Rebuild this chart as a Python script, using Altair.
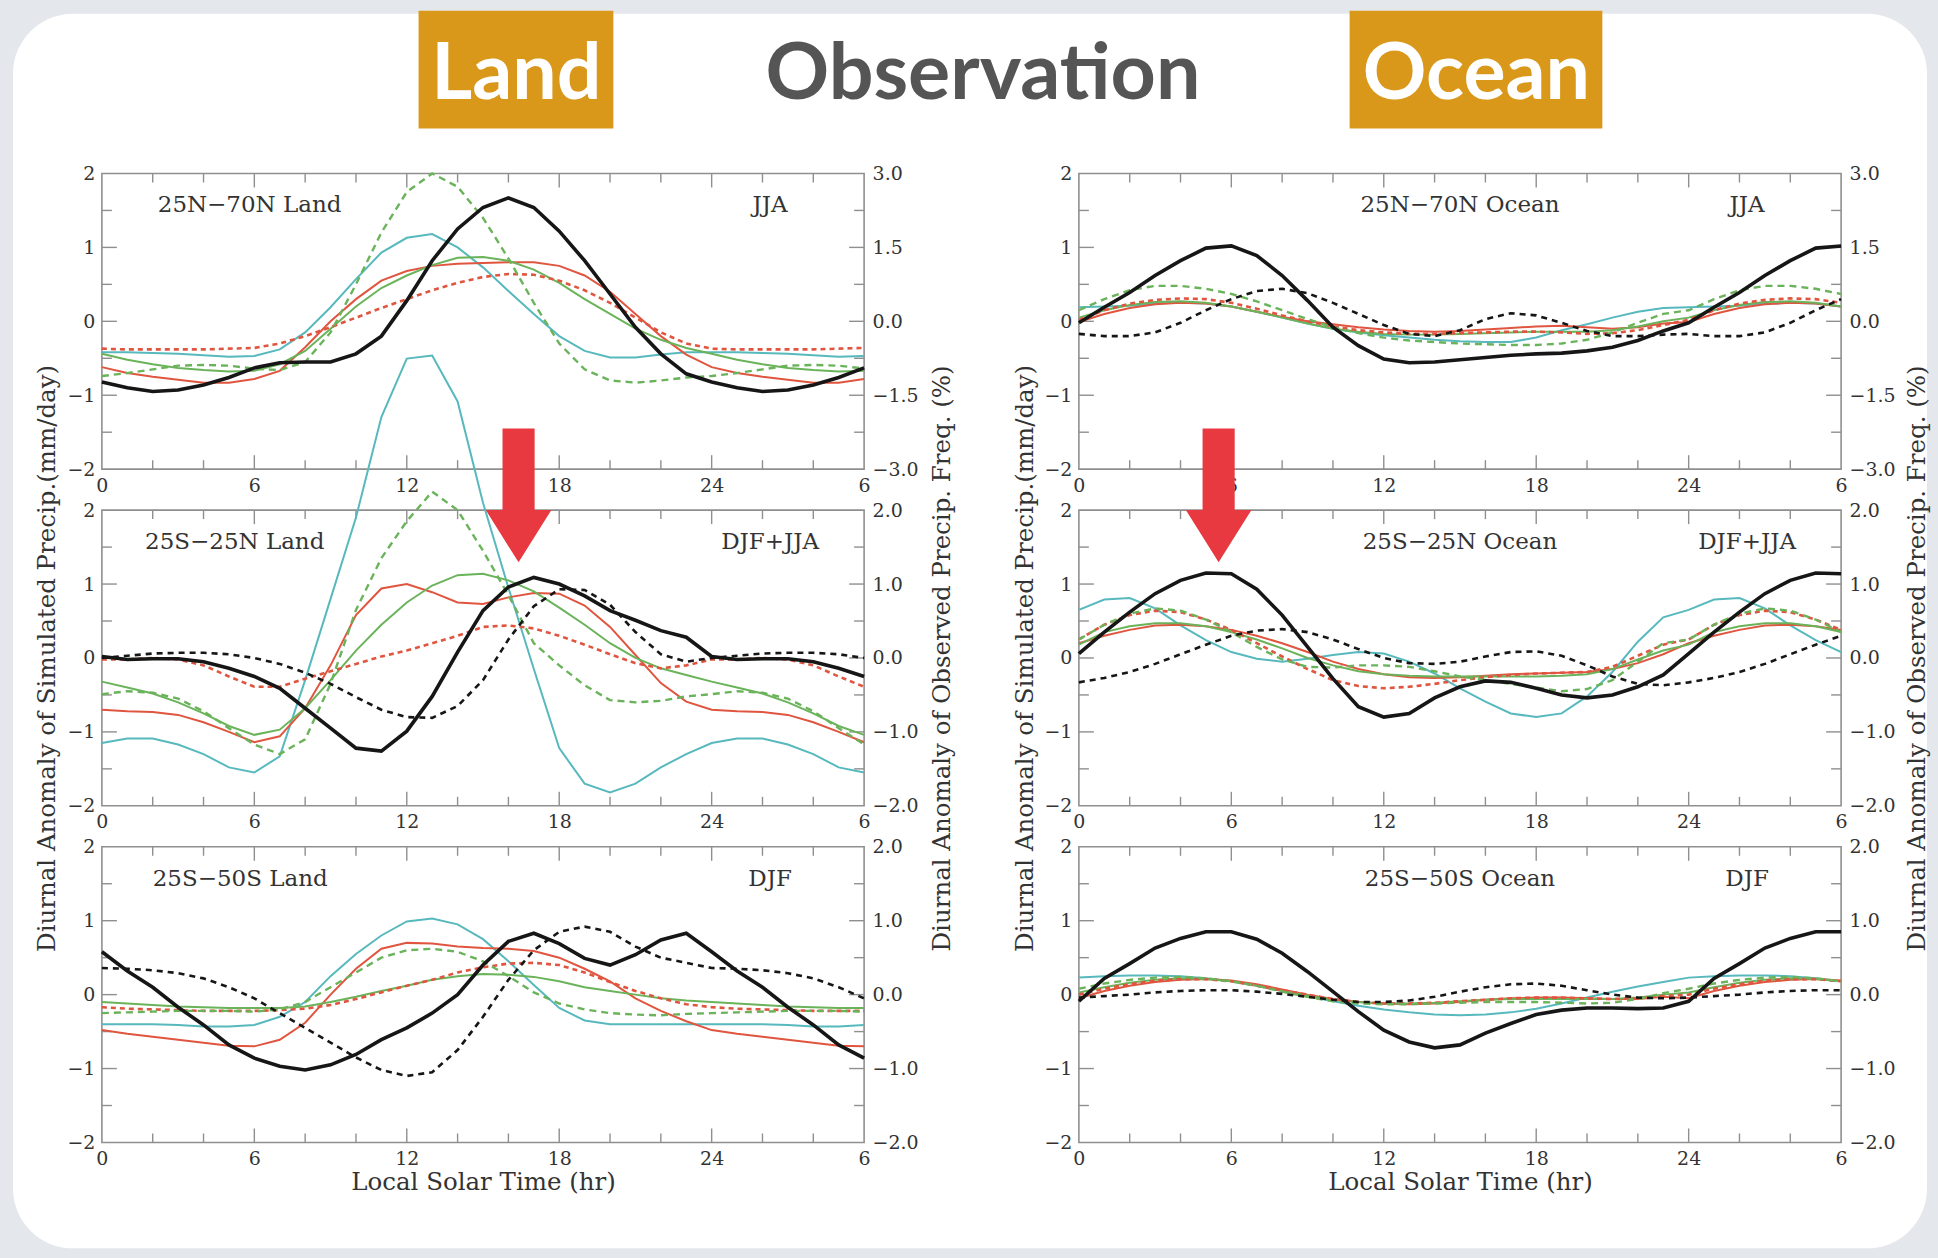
import altair as alt
import pandas as pd

# ---------------- data: hourly diurnal anomalies, hours 0..23 local solar time ----------------
HOURS = list(range(31))            # axis runs 0 .. 24 .. 6 (30 h); hours 24-30 repeat 0-6
X_LABEL_VALUES = [0, 6, 12, 18, 24, 30]
X_MINOR = [2, 4, 8, 10, 14, 16, 20, 22, 26, 28]
X_MAJOR = [6, 12, 18, 24]
Y_MINOR = [-1.5, -0.5, 0.5, 1.5]
Y_MAJOR = [-1, 0, 1]
Y_LABEL_VALUES = [-2, -1, 0, 1, 2]

# 25N-70N Land, JJA
LN_BLACK = [-0.82, -0.90, -0.95, -0.93, -0.86, -0.76, -0.63, -0.56, -0.55, -0.55, -0.44, -0.20, 0.28, 0.82, 1.25, 1.54, 1.67, 1.54, 1.22, 0.82, 0.37, -0.08, -0.44, -0.71]
LN_CYAN = [-0.42, -0.42, -0.43, -0.44, -0.46, -0.48, -0.47, -0.38, -0.15, 0.19, 0.57, 0.93, 1.13, 1.18, 1.00, 0.73, 0.41, 0.10, -0.20, -0.40, -0.49, -0.49, -0.45, -0.42]
LN_RED = [-0.62, -0.70, -0.75, -0.79, -0.83, -0.83, -0.78, -0.67, -0.35, 0.00, 0.30, 0.55, 0.68, 0.75, 0.78, 0.79, 0.80, 0.80, 0.75, 0.62, 0.40, 0.10, -0.20, -0.45]
LN_RED_D = [-0.37, -0.38, -0.38, -0.38, -0.38, -0.37, -0.36, -0.30, -0.20, -0.08, 0.05, 0.18, 0.30, 0.42, 0.52, 0.60, 0.64, 0.63, 0.55, 0.42, 0.25, 0.05, -0.15, -0.30]
LN_GREEN = [-0.44, -0.52, -0.58, -0.63, -0.66, -0.68, -0.67, -0.58, -0.40, -0.10, 0.20, 0.45, 0.62, 0.76, 0.86, 0.87, 0.82, 0.70, 0.52, 0.30, 0.10, -0.10, -0.25, -0.36]
LN_GREEN_D = [-0.74, -0.70, -0.65, -0.60, -0.59, -0.60, -0.64, -0.66, -0.55, -0.15, 0.50, 1.20, 1.75, 2.00, 1.82, 1.40, 0.85, 0.25, -0.30, -0.65, -0.80, -0.83, -0.80, -0.76]

# 25S-25N Land, DJF+JJA
LT_BLACK = [0.02, -0.02, -0.01, -0.01, -0.05, -0.14, -0.25, -0.41, -0.68, -0.95, -1.22, -1.26, -0.99, -0.52, 0.08, 0.64, 0.96, 1.09, 1.00, 0.84, 0.64, 0.51, 0.37, 0.28]
LT_BLACK_D = [0.00, 0.03, 0.06, 0.07, 0.07, 0.05, 0.00, -0.08, -0.20, -0.35, -0.53, -0.70, -0.80, -0.81, -0.65, -0.30, 0.25, 0.70, 0.93, 0.92, 0.72, 0.35, 0.05, -0.05]
LT_CYAN = [-1.15, -1.09, -1.09, -1.17, -1.30, -1.48, -1.55, -1.33, -0.30, 0.80, 1.90, 3.26, 4.05, 4.09, 3.47, 2.10, 0.95, -0.15, -1.22, -1.70, -1.82, -1.70, -1.48, -1.30]
LT_RED = [-0.70, -0.72, -0.73, -0.77, -0.87, -1.00, -1.14, -1.06, -0.68, -0.10, 0.58, 0.94, 1.00, 0.89, 0.75, 0.73, 0.82, 0.88, 0.87, 0.71, 0.42, 0.04, -0.34, -0.59]
LT_RED_D = [-0.02, -0.02, 0.00, -0.02, -0.10, -0.25, -0.39, -0.39, -0.28, -0.18, -0.08, 0.02, 0.10, 0.20, 0.30, 0.42, 0.44, 0.40, 0.30, 0.18, 0.05, -0.07, -0.14, -0.10]
LT_GREEN = [-0.32, -0.40, -0.48, -0.60, -0.75, -0.92, -1.04, -0.97, -0.68, -0.30, 0.10, 0.45, 0.75, 0.98, 1.12, 1.14, 1.05, 0.90, 0.68, 0.45, 0.20, 0.00, -0.14, -0.23]
LT_GREEN_D = [-0.49, -0.45, -0.47, -0.55, -0.72, -0.95, -1.17, -1.30, -1.10, -0.35, 0.65, 1.35, 1.85, 2.25, 2.00, 1.45, 0.85, 0.20, -0.10, -0.37, -0.57, -0.60, -0.58, -0.52]

# 25S-50S Land, DJF
LS_BLACK = [0.58, 0.32, 0.10, -0.17, -0.41, -0.68, -0.86, -0.97, -1.02, -0.95, -0.81, -0.61, -0.45, -0.25, 0.00, 0.40, 0.72, 0.83, 0.69, 0.49, 0.40, 0.54, 0.74, 0.83]
LS_BLACK_D = [0.36, 0.35, 0.33, 0.29, 0.22, 0.10, -0.05, -0.25, -0.45, -0.65, -0.85, -1.02, -1.10, -1.05, -0.75, -0.30, 0.20, 0.60, 0.85, 0.92, 0.85, 0.65, 0.50, 0.43]
LS_CYAN = [-0.40, -0.40, -0.40, -0.41, -0.43, -0.43, -0.41, -0.30, -0.10, 0.25, 0.55, 0.80, 0.99, 1.03, 0.95, 0.75, 0.45, 0.13, -0.18, -0.35, -0.40, -0.40, -0.40, -0.40]
LS_RED = [-0.48, -0.53, -0.57, -0.61, -0.65, -0.69, -0.70, -0.61, -0.38, 0.00, 0.35, 0.62, 0.70, 0.69, 0.65, 0.63, 0.62, 0.59, 0.50, 0.35, 0.18, -0.05, -0.22, -0.36]
LS_RED_D = [-0.17, -0.19, -0.20, -0.21, -0.22, -0.22, -0.22, -0.21, -0.19, -0.14, -0.06, 0.03, 0.12, 0.20, 0.30, 0.37, 0.42, 0.43, 0.40, 0.30, 0.17, 0.05, -0.05, -0.13]
LS_GREEN = [-0.10, -0.12, -0.14, -0.16, -0.17, -0.18, -0.18, -0.18, -0.16, -0.10, -0.03, 0.05, 0.12, 0.20, 0.25, 0.28, 0.27, 0.24, 0.18, 0.10, 0.05, 0.00, -0.05, -0.08]
LS_GREEN_D = [-0.25, -0.24, -0.23, -0.22, -0.22, -0.22, -0.23, -0.20, -0.10, 0.10, 0.30, 0.50, 0.60, 0.62, 0.58, 0.45, 0.25, 0.03, -0.12, -0.20, -0.25, -0.27, -0.28, -0.26]

# 25N-70N Ocean, JJA
ON_BLACK = [-0.02, 0.19, 0.39, 0.62, 0.82, 0.99, 1.02, 0.89, 0.62, 0.28, -0.08, -0.33, -0.51, -0.56, -0.55, -0.52, -0.49, -0.46, -0.44, -0.43, -0.40, -0.35, -0.26, -0.13]
ON_BLACK_D = [-0.17, -0.20, -0.20, -0.15, -0.02, 0.15, 0.30, 0.41, 0.44, 0.38, 0.25, 0.10, -0.05, -0.17, -0.20, -0.12, 0.03, 0.11, 0.08, -0.02, -0.13, -0.20, -0.20, -0.18]
ON_CYAN = [0.19, 0.20, 0.21, 0.24, 0.25, 0.24, 0.20, 0.13, 0.05, -0.03, -0.10, -0.15, -0.19, -0.22, -0.25, -0.27, -0.28, -0.28, -0.22, -0.12, -0.04, 0.05, 0.13, 0.18]
ON_RED = [-0.01, 0.10, 0.18, 0.23, 0.25, 0.24, 0.20, 0.13, 0.06, 0.00, -0.04, -0.08, -0.11, -0.13, -0.14, -0.13, -0.11, -0.09, -0.07, -0.06, -0.08, -0.10, -0.08, -0.03]
ON_RED_D = [0.02, 0.15, 0.24, 0.29, 0.31, 0.30, 0.25, 0.17, 0.08, 0.00, -0.07, -0.12, -0.15, -0.17, -0.17, -0.16, -0.15, -0.14, -0.14, -0.15, -0.17, -0.16, -0.12, -0.05]
ON_GREEN = [0.05, 0.15, 0.22, 0.26, 0.27, 0.25, 0.20, 0.13, 0.05, -0.03, -0.10, -0.14, -0.17, -0.18, -0.18, -0.17, -0.16, -0.15, -0.14, -0.14, -0.14, -0.12, -0.07, 0.00]
ON_GREEN_D = [0.15, 0.30, 0.42, 0.48, 0.48, 0.44, 0.37, 0.27, 0.15, 0.03, -0.08, -0.16, -0.22, -0.26, -0.28, -0.30, -0.31, -0.32, -0.32, -0.30, -0.25, -0.15, -0.02, 0.10]

# 25S-25N Ocean, DJF+JJA
OT_BLACK = [0.06, 0.35, 0.62, 0.87, 1.05, 1.15, 1.14, 0.93, 0.58, 0.15, -0.28, -0.66, -0.80, -0.75, -0.54, -0.39, -0.31, -0.33, -0.41, -0.50, -0.54, -0.50, -0.39, -0.23]
OT_BLACK_D = [-0.33, -0.27, -0.19, -0.08, 0.05, 0.18, 0.30, 0.37, 0.39, 0.35, 0.25, 0.12, 0.00, -0.07, -0.08, -0.05, 0.02, 0.08, 0.09, 0.03, -0.10, -0.25, -0.35, -0.37]
OT_CYAN = [0.65, 0.79, 0.81, 0.67, 0.44, 0.24, 0.08, -0.01, -0.05, -0.01, 0.04, 0.08, 0.06, -0.05, -0.21, -0.41, -0.59, -0.75, -0.80, -0.75, -0.52, -0.19, 0.22, 0.55]
OT_RED = [0.20, 0.30, 0.38, 0.44, 0.45, 0.43, 0.38, 0.30, 0.20, 0.08, -0.05, -0.15, -0.22, -0.26, -0.27, -0.26, -0.24, -0.22, -0.21, -0.20, -0.19, -0.15, -0.07, 0.05]
OT_RED_D = [0.25, 0.45, 0.58, 0.64, 0.62, 0.52, 0.38, 0.20, 0.02, -0.15, -0.30, -0.38, -0.41, -0.39, -0.35, -0.30, -0.26, -0.23, -0.21, -0.20, -0.19, -0.12, 0.03, 0.18]
OT_GREEN = [0.18, 0.35, 0.43, 0.47, 0.47, 0.43, 0.35, 0.25, 0.13, 0.00, -0.10, -0.18, -0.22, -0.24, -0.25, -0.25, -0.25, -0.25, -0.25, -0.24, -0.22, -0.15, -0.02, 0.10]
OT_GREEN_D = [0.25, 0.45, 0.60, 0.67, 0.64, 0.52, 0.35, 0.15, -0.02, -0.12, -0.13, -0.10, -0.10, -0.12, -0.18, -0.25, -0.30, -0.35, -0.40, -0.45, -0.42, -0.30, -0.05, 0.20]

# 25S-50S Ocean, DJF
OS_BLACK = [-0.09, 0.22, 0.42, 0.63, 0.76, 0.85, 0.85, 0.75, 0.56, 0.31, 0.04, -0.23, -0.48, -0.64, -0.72, -0.68, -0.52, -0.39, -0.27, -0.21, -0.18, -0.18, -0.19, -0.18]
OS_BLACK_D = [-0.04, -0.02, 0.00, 0.03, 0.05, 0.06, 0.06, 0.04, 0.01, -0.03, -0.07, -0.10, -0.10, -0.08, -0.03, 0.04, 0.10, 0.14, 0.15, 0.12, 0.06, 0.00, -0.04, -0.05]
OS_CYAN = [0.23, 0.25, 0.26, 0.26, 0.25, 0.22, 0.18, 0.12, 0.05, -0.02, -0.09, -0.15, -0.20, -0.24, -0.27, -0.28, -0.27, -0.24, -0.19, -0.12, -0.04, 0.04, 0.11, 0.17]
OS_RED = [-0.05, 0.05, 0.12, 0.17, 0.20, 0.21, 0.19, 0.14, 0.07, 0.00, -0.06, -0.10, -0.12, -0.13, -0.12, -0.10, -0.07, -0.05, -0.04, -0.04, -0.05, -0.06, -0.06, -0.03]
OS_RED_D = [0.00, 0.08, 0.14, 0.19, 0.21, 0.21, 0.18, 0.12, 0.06, 0.00, -0.06, -0.10, -0.12, -0.12, -0.11, -0.09, -0.07, -0.05, -0.04, -0.04, -0.05, -0.06, -0.05, -0.02]
OS_GREEN = [0.03, 0.10, 0.16, 0.20, 0.22, 0.21, 0.18, 0.12, 0.05, -0.01, -0.07, -0.10, -0.12, -0.12, -0.11, -0.09, -0.07, -0.06, -0.06, -0.06, -0.06, -0.06, -0.04, 0.00]
OS_GREEN_D = [0.08, 0.15, 0.20, 0.23, 0.24, 0.22, 0.18, 0.12, 0.04, -0.03, -0.09, -0.12, -0.13, -0.13, -0.12, -0.11, -0.10, -0.10, -0.10, -0.11, -0.12, -0.11, -0.06, 0.02]

REGIONS = ["25N−70N Land", "25S−25N Land", "25S−50S Land",
           "25N−70N Ocean", "25S−25N Ocean", "25S−50S Ocean"]
SEASONS = ["JJA", "DJF+JJA", "DJF", "JJA", "DJF+JJA", "DJF"]
HEADER = ["Land", "Observation", "Ocean"]
Y_TITLE_LEFT = "Diurnal Anomaly of Simulated Precip.(mm/day)"
Y_TITLE_RIGHT = "Diurnal Anomaly of Observed Precip. Freq. (%)"
X_TITLE = "Local Solar Time (hr)"
RIGHT_FACTOR = [1.5, 1.0, 1.0]     # right axis = left axis x factor (3.0 / 2.0 / 2.0)
ARROW_HOUR = [16.4, 5.5]           # red arrows in the 25S-25N panels

# ---------------- styles ----------------
PW, PH = 763, 296
FRAME = "#8f8f8f"
TXT = "#333333"
SERIF = "DejaVu Serif"
BLACK, CYAN, RED, GREEN = "#161616", "#57b9be", "#e0553f", "#6ab35a"
GOLD, ARROW = "#d9981a", "#e7393f"
BG_GRAY = "#e4e7eb"
LABEL_SIZE = 19

STYLE = {
    "cyan": dict(color=CYAN, strokeWidth=2.0),
    "red": dict(color=RED, strokeWidth=2.0),
    "green": dict(color=GREEN, strokeWidth=2.0),
    "red_d": dict(color=RED, strokeWidth=2.6, strokeDash=[5, 4]),
    "green_d": dict(color=GREEN, strokeWidth=2.4, strokeDash=[7, 5]),
    "black_d": dict(color=BLACK, strokeWidth=2.6, strokeDash=[6, 5]),
    "black": dict(color=BLACK, strokeWidth=3.6),
}
ORDER = ["cyan", "red", "green", "red_d", "green_d", "black_d", "black"]

XS = alt.Scale(domain=[0, 30], nice=False, zero=False)
YS = alt.Scale(domain=[-2, 2], nice=False, zero=False)
ONE = pd.DataFrame({"k": [0]})
ARROW_PATH = "M-0.24,-1L0.24,-1L0.24,0.22L0.49,0.22L0,1L-0.49,0.22L-0.24,0.22Z"


def full_day(v):
    # the figure shows 0..24 then repeats hours 0..6
    return v + v[:7]


def x_axis(with_title):
    kw = dict(orient="bottom", values=X_LABEL_VALUES, labelPadding=7, zindex=2,
              labelExpr="datum.value > 24 ? '' + (datum.value - 24) : datum.label")
    if with_title:
        kw.update(title=X_TITLE, titleY=40, titleX=PW / 2, titleBaseline="middle", titleAlign="center")
    else:
        kw.update(title=None)
    return alt.Axis(**kw)


def backdrop():
    lay = []
    lay.append(alt.Chart(ONE).mark_rect(fill=BG_GRAY).encode(
        x=alt.value(-101), x2=alt.value(1837), y=alt.value(-172), y2=alt.value(1086)))
    lay.append(alt.Chart(ONE).mark_rect(fill="white", cornerRadius=60).encode(
        x=alt.value(-89), x2=alt.value(1827), y=alt.value(-160), y2=alt.value(1076)))
    for x0, x1 in [(317, 512), (1249, 1502)]:
        lay.append(alt.Chart(ONE).mark_rect(fill=GOLD).encode(
            x=alt.value(x0), x2=alt.value(x1), y=alt.value(-163), y2=alt.value(-45)))
    for txt, xc, col in zip(HEADER, [415, 882, 1376], ["white", "#555555", "white"]):
        lay.append(alt.Chart(ONE).mark_text(
            text=txt, font="Lato", fontWeight="bold", fontSize=79, color=col,
            align="center", baseline="alphabetic").encode(x=alt.value(xc), y=alt.value(-75)))
    return lay


def panel(series, row, col, first=False):
    idx = col * 3 + row
    layers = backdrop() if first else []

    # frame
    layers.append(alt.Chart(ONE).mark_rect(fill="transparent", stroke=FRAME, strokeWidth=1.6).encode(
        x=alt.value(0), x2=alt.value(PW), y=alt.value(0), y2=alt.value(PH)))

    # inner ticks on top and bottom
    for vals, ln in [(X_MINOR, 9), (X_MAJOR, 14)]:
        d = pd.DataFrame({"t": vals})
        for y0, y1 in [(0, ln), (PH, PH - ln)]:
            layers.append(alt.Chart(d).mark_rule(color=FRAME, strokeWidth=1.4).encode(
                x=alt.X("t:Q", scale=XS, axis=None), y=alt.value(y0), y2=alt.value(y1)))

    # inner ticks on left and right (the right minor-tick layer carries the right axis)
    right_axis_kw = dict(orient="right", values=Y_LABEL_VALUES, labelPadding=8, zindex=2,
                         labelExpr="format(datum.value * %s, '.1f')" % RIGHT_FACTOR[row])
    if row == 1:
        right_axis_kw.update(title=Y_TITLE_RIGHT, titleAngle=270, titleX=78 if col == 0 else 76,
                             titleY=PH / 2, titleAlign="center", titleBaseline="middle")
    else:
        right_axis_kw.update(title=None)
    for vals, ln in [(Y_MINOR, 10), (Y_MAJOR, 15)]:
        d = pd.DataFrame({"v": vals})
        layers.append(alt.Chart(d).mark_rule(color=FRAME, strokeWidth=1.4).encode(
            y=alt.Y("v:Q", scale=YS, axis=None), x=alt.value(0), x2=alt.value(ln)))
        ax = alt.Axis(**right_axis_kw) if ln == 10 else None
        layers.append(alt.Chart(d).mark_rule(color=FRAME, strokeWidth=1.4).encode(
            y=alt.Y("v:Q", scale=YS, axis=ax), x=alt.value(PW - ln), x2=alt.value(PW)))

    # the curves (first one carries the x axis and left y axis)
    left_kw = dict(orient="left", values=Y_LABEL_VALUES, labelPadding=7, zindex=2)
    if row == 1:
        left_kw.update(title=Y_TITLE_LEFT, titleAngle=270, titleX=-54 if col == 0 else -53,
                       titleY=PH / 2, titleAlign="center", titleBaseline="middle")
    else:
        left_kw.update(title=None)
    first_line = True
    for key in ORDER:
        if key not in series:
            continue
        d = pd.DataFrame({"hour": HOURS, "value": full_day(series[key])})
        if first_line:
            enc = dict(x=alt.X("hour:Q", scale=XS, axis=x_axis(row == 2)),
                       y=alt.Y("value:Q", scale=YS, axis=alt.Axis(**left_kw)))
            first_line = False
        else:
            enc = dict(x=alt.X("hour:Q", scale=XS, axis=None),
                       y=alt.Y("value:Q", scale=YS, axis=None))
        layers.append(alt.Chart(d).mark_line(**STYLE[key]).encode(**enc))

    # panel labels
    if col == 0:
        rx = [2.2, 1.7, 2.0][row]
        ralign = "left"
    else:
        rx, ralign = 15.0, "center"
    lab = pd.DataFrame({"h": [rx], "v": [1.57], "t": [REGIONS[idx]]})
    layers.append(alt.Chart(lab).mark_text(font=SERIF, fontSize=23, color=TXT, align=ralign,
                                           baseline="middle").encode(
        x=alt.X("h:Q", scale=XS, axis=None), y=alt.Y("v:Q", scale=YS, axis=None), text="t:N"))
    sea = pd.DataFrame({"h": [26.3], "v": [1.57], "t": [SEASONS[idx]]})
    layers.append(alt.Chart(sea).mark_text(font=SERIF, fontSize=23, color=TXT, align="center",
                                           baseline="middle").encode(
        x=alt.X("h:Q", scale=XS, axis=None), y=alt.Y("v:Q", scale=YS, axis=None), text="t:N"))

    # red arrow
    if row == 1:
        ad = pd.DataFrame({"h": [ARROW_HOUR[col]], "v": [2.2]})
        layers.append(alt.Chart(ad).mark_point(shape=ARROW_PATH, size=17956, filled=True,
                                               fill=ARROW, opacity=1, strokeWidth=0).encode(
            x=alt.X("h:Q", scale=XS, axis=None), y=alt.Y("v:Q", scale=YS, axis=None)))

    return alt.layer(*layers).resolve_axis(x="independent", y="independent").properties(width=PW, height=PH)


LAND = [
    {"cyan": LN_CYAN, "red": LN_RED, "green": LN_GREEN, "red_d": LN_RED_D, "green_d": LN_GREEN_D, "black": LN_BLACK},
    {"cyan": LT_CYAN, "red": LT_RED, "green": LT_GREEN, "red_d": LT_RED_D, "green_d": LT_GREEN_D, "black_d": LT_BLACK_D, "black": LT_BLACK},
    {"cyan": LS_CYAN, "red": LS_RED, "green": LS_GREEN, "red_d": LS_RED_D, "green_d": LS_GREEN_D, "black_d": LS_BLACK_D, "black": LS_BLACK},
]
OCEAN = [
    {"cyan": ON_CYAN, "red": ON_RED, "green": ON_GREEN, "red_d": ON_RED_D, "green_d": ON_GREEN_D, "black_d": ON_BLACK_D, "black": ON_BLACK},
    {"cyan": OT_CYAN, "red": OT_RED, "green": OT_GREEN, "red_d": OT_RED_D, "green_d": OT_GREEN_D, "black_d": OT_BLACK_D, "black": OT_BLACK},
    {"cyan": OS_CYAN, "red": OS_RED, "green": OS_GREEN, "red_d": OS_RED_D, "green_d": OS_GREEN_D, "black_d": OS_BLACK_D, "black": OS_BLACK},
]

panels = []
for r in range(3):
    panels.append(panel(LAND[r], r, 0, first=(r == 0)))
    panels.append(panel(OCEAN[r], r, 1))

chart = alt.concat(*panels, columns=2, spacing=alt.RowColnumber(row=41, column=215),
                   bounds="flush").properties(padding=0, background=BG_GRAY)
chart = chart.configure_view(stroke="transparent").configure_axis(
    labelFont=SERIF, labelFontSize=LABEL_SIZE, labelColor=TXT, labelFlush=False,
    titleFont=SERIF, titleFontSize=24.5, titleFontWeight="normal", titleColor=TXT,
    domain=False, ticks=False, tickSize=0, grid=False)

chart.save("out.html", embed_options={"renderer": "svg", "actions": False})
